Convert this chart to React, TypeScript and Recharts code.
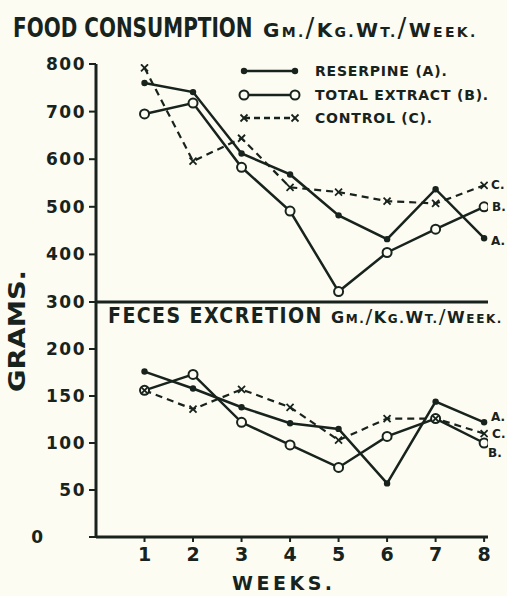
import React from 'react';
import { LineChart, Line, XAxis, YAxis, LabelList } from 'recharts';

const weeks = [1, 2, 3, 4, 5, 6, 7, 8];
const foodReserpine = [760, 741, 612, 568, 482, 432, 537, 434];
const foodExtract = [695, 718, 583, 491, 322, 404, 453, 500];
const foodControl = [792, 596, 644, 541, 531, 512, 507, 545];
const fecesReserpine = [176, 158, 138, 121, 115, 57, 144, 122];
const fecesExtract = [156, 173, 122, 98, 74, 107, 126, 100];
const fecesControl = [156, 136, 157, 138, 103, 126, 126, 110];
const foodTicks = [300, 400, 500, 600, 700, 800];
const fecesTicks = [0, 50, 100, 150, 200];
const seriesNames = ['RESERPINE (A).', 'TOTAL EXTRACT (B).', 'CONTROL (C).'];
const endTags = ['A.', 'B.', 'C.'];

const INK = '#17231c';
const BG = '#fcfcf3';
const FONT = '"DejaVu Sans", sans-serif';

const foodData = weeks.map((w, i) => ({ week: w, a: foodReserpine[i], b: foodExtract[i], c: foodControl[i] }));
const fecesData = weeks.map((w, i) => ({ week: w, a: fecesReserpine[i], b: fecesExtract[i], c: fecesControl[i] }));

const FilledDot = (p: any) => {
  if (p.cx == null) return null;
  return <circle cx={p.cx} cy={p.cy} r={3.2} fill={INK} />;
};
const OpenDot = (p: any) => {
  if (p.cx == null) return null;
  return <circle cx={p.cx} cy={p.cy} r={4.5} fill={BG} stroke={INK} strokeWidth={2} />;
};
const CrossDot = (p: any) => {
  if (p.cx == null) return null;
  const s = 3.5;
  return (
    <g stroke={INK} strokeWidth={1.8}>
      <line x1={p.cx - s} y1={p.cy - s} x2={p.cx + s} y2={p.cy + s} />
      <line x1={p.cx - s} y1={p.cy + s} x2={p.cx + s} y2={p.cy - s} />
    </g>
  );
};

const endLabel = (tag: string, dx: number, dy: number) => (props: any) => {
  if (props.index !== weeks.length - 1) return null;
  return (
    <text
      x={Number(props.x) + dx}
      y={Number(props.y) + dy}
      fill={INK}
      fontFamily={FONT}
      fontWeight="bold"
      fontSize={12}
      dominantBaseline="central"
    >
      {tag}
    </text>
  );
};

const YTick = (props: any) => {
  const { x, y, payload } = props;
  const isZero = payload.value === 0;
  return (
    <text
      x={isZero ? 38 : x}
      y={y}
      dy={6}
      textAnchor={isZero ? 'middle' : 'end'}
      fill={INK}
      fontFamily={FONT}
      fontWeight="bold"
      fontSize={17}
      letterSpacing={1.5}
    >
      {payload.value}
    </text>
  );
};

const XTick = (props: any) => {
  const { x, y, payload } = props;
  return (
    <text x={x} y={y} dy={17} textAnchor="middle" fill={INK} fontFamily={FONT} fontWeight="bold" fontSize={19}>
      {payload.value}
    </text>
  );
};

const axisLine = { stroke: INK, strokeWidth: 3 };
const tickLine = { stroke: INK, strokeWidth: 2 };

const LegendIcon = ({ kind, y }: { kind: number; y: number }) => {
  const x1 = 244;
  const x2 = 295;
  const dash = kind === 2 ? '6 4' : undefined;
  const ends = [x1, x2];
  return (
    <g>
      <line x1={x1} y1={y} x2={x2} y2={y} stroke={INK} strokeWidth={2.5} strokeDasharray={dash} />
      {ends.map((ex) =>
        kind === 0 ? (
          <FilledDot key={ex} cx={ex} cy={y} />
        ) : kind === 1 ? (
          <OpenDot key={ex} cx={ex} cy={y} />
        ) : (
          <CrossDot key={ex} cx={ex} cy={y} />
        )
      )}
    </g>
  );
};

const legendRows = [71, 95, 118];

const Units = ({ x, y, big, small, slash, spacing }: { x: number; y: number; big: number; small: number; slash: number; spacing: number }) => (
  <text x={x} y={y} letterSpacing={spacing}>
    <tspan fontSize={big}>G</tspan>
    <tspan fontSize={small}>M.</tspan>
    <tspan fontSize={slash} fontWeight="normal">/</tspan>
    <tspan fontSize={big}>K</tspan>
    <tspan fontSize={small}>G.</tspan>
    <tspan fontSize={big}>W</tspan>
    <tspan fontSize={small}>T.</tspan>
    <tspan fontSize={slash} fontWeight="normal">/</tspan>
    <tspan fontSize={big}>W</tspan>
    <tspan fontSize={small}>EEK.</tspan>
  </text>
);

export default function App() {
  return (
    <div style={{ position: 'absolute', left: 0, top: 0, width: 507, height: 596, background: BG, overflow: 'hidden' }}>
      <div style={{ position: 'absolute', left: 0, top: 0 }}>
        <LineChart width={507} height={320} data={foodData} margin={{ top: 64, right: 19, bottom: 0, left: 0 }}>
          <XAxis
            type="number"
            dataKey="week"
            domain={[0, 8.08]}
            ticks={weeks}
            tick={false}
            tickLine={false}
            axisLine={axisLine}
            height={18}
            allowDataOverflow
          />
          <YAxis
            type="number"
            domain={[300, 800]}
            ticks={foodTicks}
            interval={0}
            width={96}
            axisLine={axisLine}
            tickLine={tickLine}
            tickSize={7}
            tickMargin={3}
            tick={<YTick />}
            allowDataOverflow
          />
          <Line dataKey="a" stroke={INK} strokeWidth={2.5} dot={<FilledDot />} isAnimationActive={false}>
            <LabelList dataKey="a" content={endLabel(endTags[0], 7, 3)} />
          </Line>
          <Line dataKey="b" stroke={INK} strokeWidth={2.5} dot={<OpenDot />} isAnimationActive={false}>
            <LabelList dataKey="b" content={endLabel(endTags[1], 8, 0)} />
          </Line>
          <Line dataKey="c" stroke={INK} strokeWidth={2.2} strokeDasharray="7 5" dot={<CrossDot />} isAnimationActive={false}>
            <LabelList dataKey="c" content={endLabel(endTags[2], 7, 0)} />
          </Line>
        </LineChart>
      </div>
      <div style={{ position: 'absolute', left: 0, top: 0 }}>
        <LineChart width={507} height={596} data={fecesData} margin={{ top: 302, right: 19, bottom: 0, left: 0 }}>
          <XAxis
            type="number"
            dataKey="week"
            domain={[0, 8.08]}
            ticks={weeks}
            interval={0}
            axisLine={axisLine}
            tickLine={tickLine}
            tickSize={5}
            tickMargin={2}
            tick={<XTick />}
            height={59}
            allowDataOverflow
          />
          <YAxis
            type="number"
            domain={[0, 250]}
            ticks={fecesTicks}
            interval={0}
            width={96}
            axisLine={axisLine}
            tickLine={tickLine}
            tickSize={7}
            tickMargin={3}
            tick={<YTick />}
            allowDataOverflow
          />
          <Line dataKey="a" stroke={INK} strokeWidth={2.5} dot={<FilledDot />} isAnimationActive={false}>
            <LabelList dataKey="a" content={endLabel(endTags[0], 7, -5)} />
          </Line>
          <Line dataKey="b" stroke={INK} strokeWidth={2.5} dot={<OpenDot />} isAnimationActive={false}>
            <LabelList dataKey="b" content={endLabel(endTags[1], 4, 10)} />
          </Line>
          <Line dataKey="c" stroke={INK} strokeWidth={2.2} strokeDasharray="7 5" dot={<CrossDot />} isAnimationActive={false}>
            <LabelList dataKey="c" content={endLabel(endTags[2], 8, 0)} />
          </Line>
        </LineChart>
      </div>
      <svg width={507} height={596} style={{ position: 'absolute', left: 0, top: 0 }} fontFamily={FONT} fontWeight="bold" fill={INK}>
        <text transform="translate(13,37) scale(1,1.3)" x={0} y={0} fontSize={20}>
          FOOD CONSUMPTION
        </text>
        <Units x={263} y={37} big={20} small={14} slash={26} spacing={2.3} />
        <text transform="translate(108,323) scale(1,1.1)" x={0} y={0} fontSize={19} letterSpacing={1.4}>
          FECES EXCRETION
        </text>
        <Units x={331} y={323} big={16} small={12} slash={20} spacing={1.6} />
        <text transform="translate(25,392) rotate(-90)" x={0} y={0} fontSize={23} textLength={122} lengthAdjust="spacingAndGlyphs">
          GRAMS.
        </text>
        <text x={232} y={590} fontSize={19} letterSpacing={3.5}>
          WEEKS.
        </text>
        {seriesNames.map((name, i) => (
          <g key={name}>
            <LegendIcon kind={i} y={legendRows[i]} />
            <text x={315} y={legendRows[i] + 5} fontSize={14} letterSpacing={0.8}>
              {name}
            </text>
          </g>
        ))}
      </svg>
    </div>
  );
}
